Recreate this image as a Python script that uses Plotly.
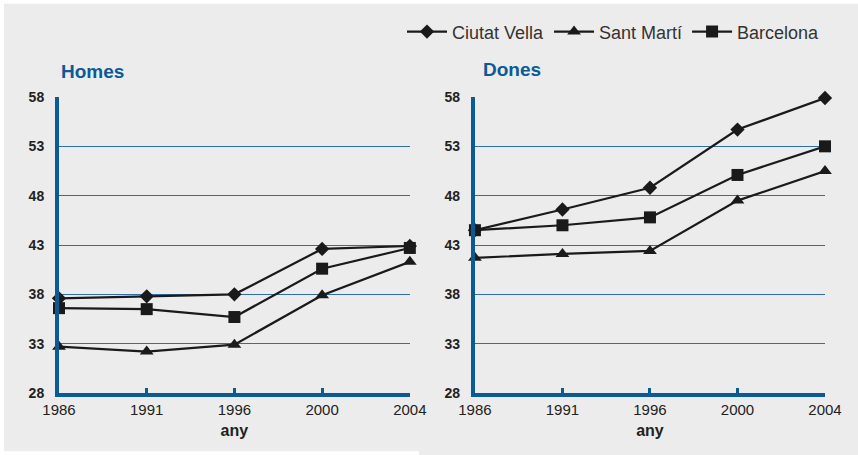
import plotly.graph_objects as go

years = ["1986", "1991", "1996", "2000", "2004"]
y_ticks = [28, 33, 38, 43, 48, 53, 58]

series_names = ["Ciutat Vella", "Sant Martí", "Barcelona"]
homes = {
    "Ciutat Vella": [37.6, 37.8, 38.0, 42.6, 42.9],
    "Sant Martí": [32.7, 32.2, 32.9, 37.9, 41.3],
    "Barcelona": [36.6, 36.5, 35.7, 40.6, 42.7],
}
dones = {
    "Ciutat Vella": [44.5, 46.6, 48.8, 54.7, 57.9],
    "Sant Martí": [41.7, 42.1, 42.4, 47.5, 50.5],
    "Barcelona": [44.5, 45.0, 45.8, 50.1, 53.0],
}
symbols = {"Ciutat Vella": "diamond", "Sant Martí": "triangle-up", "Barcelona": "square"}
msizes = {"Ciutat Vella": 11, "Sant Martí": 12, "Barcelona": 12}

BLUE = "#0b5a98"
GRID = "#2f6ea6"
BG = "#ececec"
FONT = "Liberation Sans, Arial, sans-serif"

fig = go.Figure()
for panel, (data, xa, ya) in enumerate([(homes, "x", "y"), (dones, "x2", "y2")]):
    for name in series_names:
        fig.add_trace(go.Scatter(
            x=years, y=data[name], name=name, xaxis=xa, yaxis=ya,
            mode="lines+markers", legendgroup=name, showlegend=(panel == 0),
            line=dict(color="#1a1a1a", width=2.2),
            marker=dict(symbol=symbols[name], size=msizes[name], color="#1a1a1a"),
            cliponaxis=False,
        ))

def xaxis(domain):
    return dict(
        domain=domain, type="category", range=[0, 4], showgrid=False,
        showline=True, linecolor=BLUE, linewidth=4,
        ticks="inside", ticklen=5, tickwidth=3, tickcolor=BLUE,
        tickfont=dict(family=FONT, size=15, color="#222"),
        title=dict(text="<b>any</b>", font=dict(family=FONT, size=16, color="#222"), standoff=9),
        zeroline=False, fixedrange=True, automargin=False,
    )

def yaxis(anchor):
    return dict(
        anchor=anchor, range=[28, 58], tickvals=y_ticks,
        ticktext=[f"<b>{v}</b>" for v in y_ticks],
        showgrid=True, gridcolor=GRID, gridwidth=1,
        showline=True, linecolor=BLUE, linewidth=4,
        ticks="", ticklabelstandoff=8,
        tickfont=dict(family=FONT, size=14, color="#222"),
        zeroline=False, fixedrange=True, automargin=False,
    )

fig.update_layout(
    width=858, height=455,
    margin=dict(l=59, r=33, t=97, b=62, autoexpand=False),
    paper_bgcolor=BG, plot_bgcolor=BG,
    xaxis=xaxis([0, 0.458]), yaxis=yaxis("x"),
    xaxis2=xaxis([0.543, 1]), yaxis2=yaxis("x2"),
    legend=dict(orientation="h", x=1.0, xanchor="right", y=1.22, yanchor="middle",
                font=dict(family=FONT, size=18, color="#333"),
                bgcolor="rgba(0,0,0,0)", itemwidth=40, traceorder="normal"),
    annotations=[
        dict(text="<b>Homes</b>", xref="paper", yref="paper", x=0.0, y=1.045,
             xanchor="left", yanchor="bottom", showarrow=False,
             font=dict(family=FONT, size=19, color=BLUE)),
        dict(text="<b>Dones</b>", xref="paper", yref="paper", x=0.551, y=1.05,
             xanchor="left", yanchor="bottom", showarrow=False,
             font=dict(family=FONT, size=19, color=BLUE)),
    ],
    shapes=[
        dict(type="rect", xref="paper", yref="paper", x0=-0.08, x1=1.05, y0=1.315, y1=1.34,
             fillcolor="white", line=dict(width=0), layer="below"),
        dict(type="rect", xref="paper", yref="paper", x0=-0.08, x1=-0.0718, y0=-0.22, y1=1.34,
             fillcolor="white", line=dict(width=0), layer="below"),
        dict(type="rect", xref="paper", yref="paper", x0=-0.08, x1=0.47, y0=-0.22, y1=-0.197,
             fillcolor="white", line=dict(width=0), layer="below"),
    ],
)

fig.write_html(
    "out.html",
    config={"displayModeBar": False, "staticPlot": True},
    post_script="document.body.style.margin='0px';document.body.style.overflow='hidden';",
)
